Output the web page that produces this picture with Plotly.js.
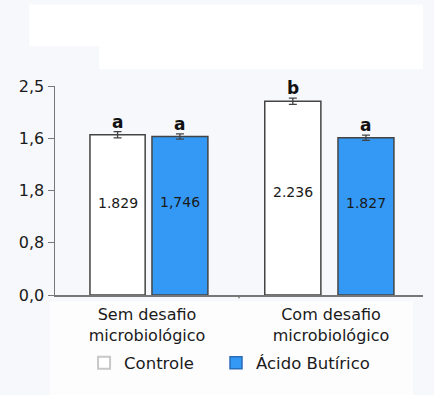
<!DOCTYPE html>
<html>
<head>
<meta charset="utf-8">
<script src="https://cdn.plot.ly/plotly-3.0.1.min.js"></script>
<style>html,body{margin:0;padding:0;background:#f7f8fb;}#chart{width:434px;height:395px;}</style>
</head>
<body>
<div id="chart"></div>
<script>
var categories = ["Sem desafio<br>microbiológico", "Com desafio<br>microbiológico"];
var controleValues = [1.84, 2.225];
var acidoValues = [1.82, 1.805];
var controleLabels = ["1.829", "2.236"];
var acidoLabels = ["1,746", "1.827"];
var controleErr = [0.035, 0.035];
var acidoErr = [0.03, 0.03];
var controleLetters = ["a", "b"];
var acidoLetters = ["a", "a"];
var tickVals = [0, 0.6, 1.2, 1.8, 2.4];
var tickText = ["0,0", "0,8", "1,8", "1,6", "2,5"];

var font = "DejaVu Sans, sans-serif";
var ctrlOffset = [-0.31, -0.36], ctrlWidth = [0.30, 0.305];
var acOffset = [0.027, 0.038], acWidth = [0.304, 0.304];
var ctrlLabelFrac = [0.575, 0.53], acLabelFrac = [0.585, 0.585];

var traces = [
  {
    type: "bar", name: "Controle", x: categories, y: controleValues, showlegend: false,
    offset: ctrlOffset, width: ctrlWidth,
    marker: {color: "#ffffff", line: {color: "#444444", width: 1.5}},
    error_y: {type: "data", array: controleErr, visible: true, color: "#444", thickness: 1.3, width: 4},
    hoverinfo: "none"
  },
  {
    type: "bar", name: "Ácido Butírico", x: categories, y: acidoValues, showlegend: false,
    offset: acOffset, width: acWidth,
    marker: {color: "#3399f5", line: {color: "#444444", width: 1.5}},
    error_y: {type: "data", array: acidoErr, visible: true, color: "#444", thickness: 1.3, width: 4},
    hoverinfo: "none"
  },
  {type: "bar", name: "Controle", x: [categories[0]], y: [null], legend: "legend",
    marker: {color: "#ffffff", line: {color: "#c8c8c8", width: 2}}, hoverinfo: "none"},
  {type: "bar", name: "Ácido Butírico", x: [categories[0]], y: [null], legend: "legend2",
    marker: {color: "#3399f5", line: {color: "#2a6db8", width: 1.5}}, hoverinfo: "none"}
];

var annotations = [];
for (var i = 0; i < categories.length; i++) {
  var cx = i + ctrlOffset[i] + ctrlWidth[i] / 2;
  var ax = i + acOffset[i] + acWidth[i] / 2;
  annotations.push({x: cx, xref: "x", y: controleValues[i] + controleErr[i], yref: "y",
    text: "<b>" + controleLetters[i] + "</b>", showarrow: false, yanchor: "bottom", yshift: -2,
    font: {family: font, size: 17, color: "#111"}});
  annotations.push({x: ax, xref: "x", y: acidoValues[i] + acidoErr[i], yref: "y",
    text: "<b>" + acidoLetters[i] + "</b>", showarrow: false, yanchor: "bottom", yshift: -2,
    font: {family: font, size: 17, color: "#111"}});
  annotations.push({x: cx, xref: "x", y: controleValues[i] * ctrlLabelFrac[i], yref: "y",
    text: controleLabels[i], showarrow: false, yanchor: "middle",
    font: {family: font, size: 14, color: "#1a1a1a"}});
  annotations.push({x: ax, xref: "x", y: acidoValues[i] * acLabelFrac[i], yref: "y",
    text: acidoLabels[i], showarrow: false, yanchor: "middle",
    font: {family: font, size: 14, color: "#1a1a1a"}});
}

var legendStyle = function (xpos) {
  return {orientation: "h", x: xpos, xanchor: "left", y: -0.325, yanchor: "middle",
    font: {family: font, size: 16.5, color: "#1a1a1a"}, itemwidth: 30, bgcolor: "rgba(0,0,0,0)"};
};

var layout = {
  width: 434, height: 395,
  margin: {l: 55, r: 11, t: 86, b: 100},
  paper_bgcolor: "#f7f8fb", plot_bgcolor: "#f7f8fb",
  barmode: "overlay",
  showlegend: true,
  legend: legendStyle(0.079),
  legend2: legendStyle(0.4375),
  xaxis: {type: "category", range: [-0.5, 1.5], showline: true, linecolor: "#777", linewidth: 1.5,
    ticks: "", ticklabelstandoff: 4, tickfont: {family: font, size: 16, color: "#1a1a1a"}, fixedrange: true},
  yaxis: {range: [0, 2.4], tickvals: tickVals, ticktext: tickText, showline: true, linecolor: "#777",
    linewidth: 1.5, ticks: "outside", ticklen: 6, tickcolor: "#777", showgrid: false, zeroline: false,
    tickfont: {family: font, size: 16, color: "#1a1a1a"}},
  annotations: annotations,
  shapes: [
    {type: "line", xref: "x", yref: "paper", x0: 0.5, x1: 0.5, y0: 0, y1: -0.015, line: {color: "#777", width: 1.5}},
    {type: "rect", xref: "paper", yref: "paper", layer: "below", x0: -0.07, x1: 1, y0: 1.19, y1: 1.39, fillcolor: "#ffffff", line: {width: 0}},
    {type: "rect", xref: "paper", yref: "paper", layer: "below", x0: 0.12, x1: 1, y0: 1.08, y1: 1.2, fillcolor: "#ffffff", line: {width: 0}},
    {type: "rect", xref: "paper", yref: "paper", layer: "below", x0: -0.014, x1: 0.973, y0: -0.03, y1: -0.48, fillcolor: "#fdfdfe", line: {width: 0}}
  ]
};

Plotly.newPlot("chart", traces, layout, {displayModeBar: false, staticPlot: true});
</script>
</body>
</html>
